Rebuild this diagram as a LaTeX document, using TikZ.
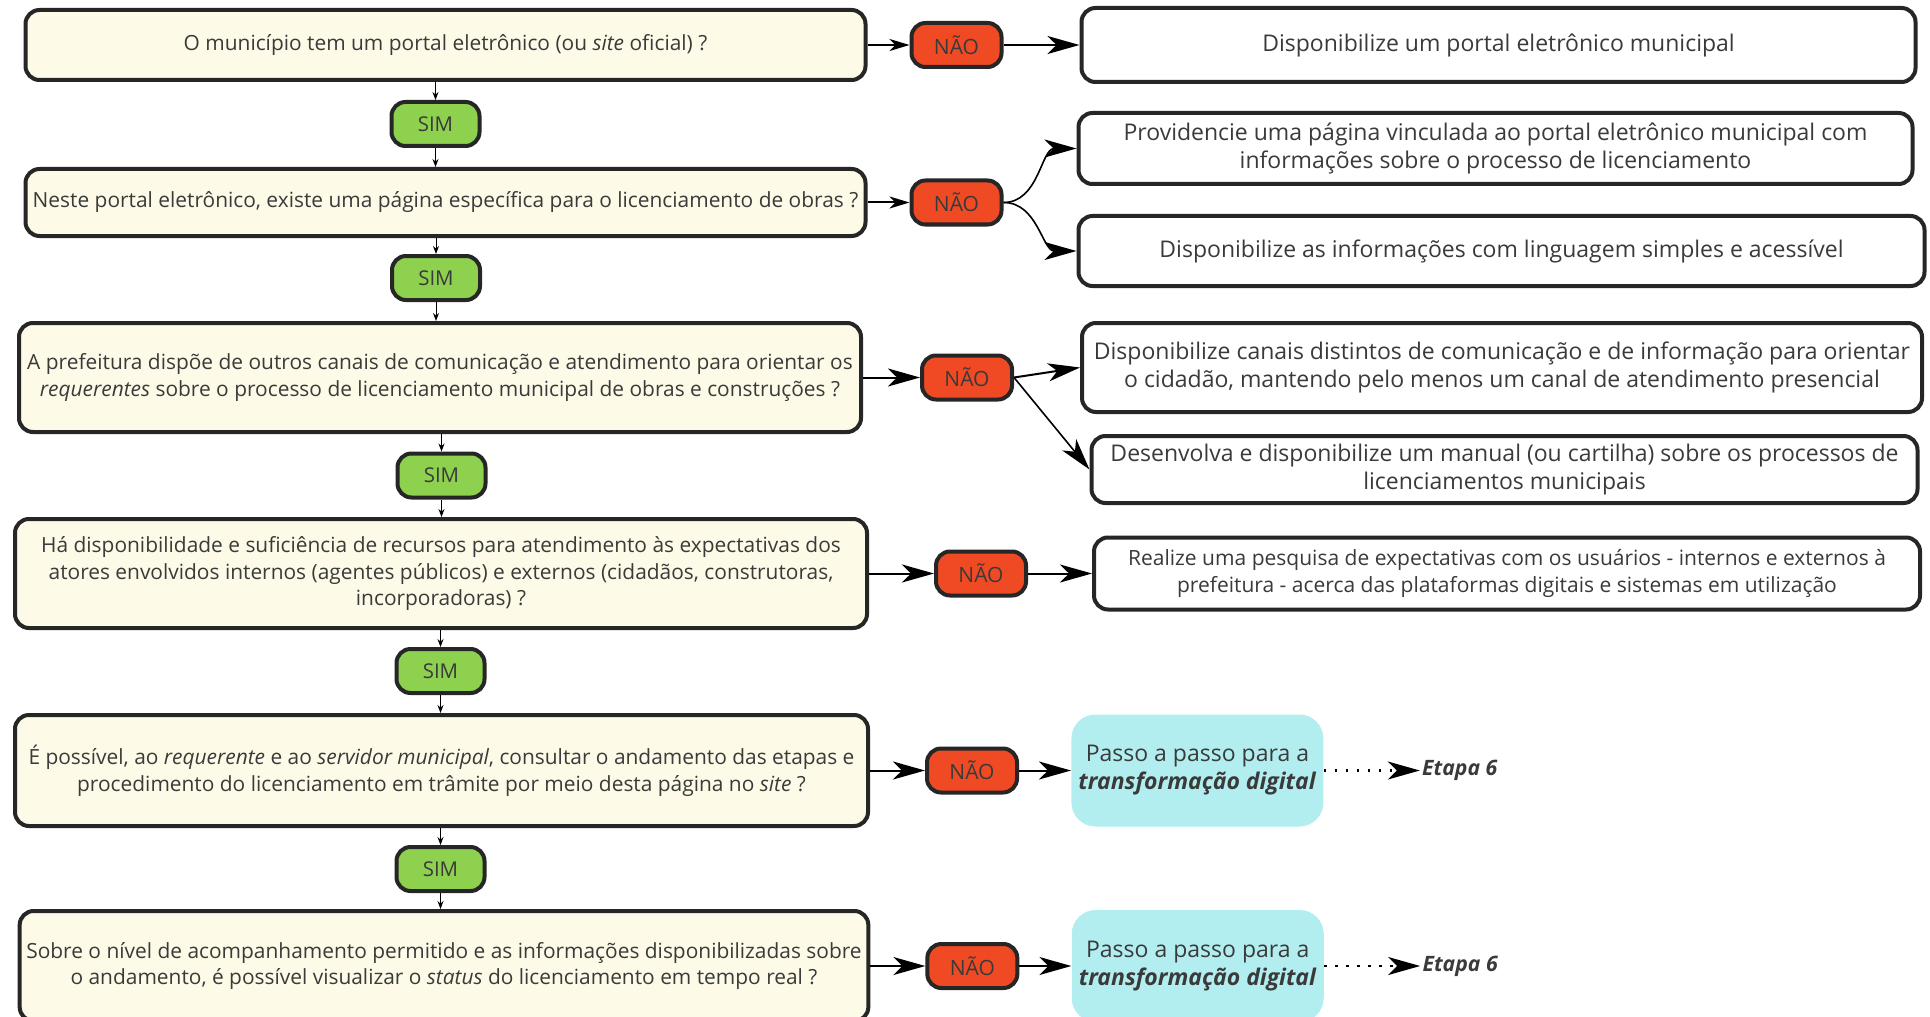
\documentclass[tikz,border=0pt]{standalone}
\usepackage{fontspec}
\setmainfont{Open Sans}
\usepackage{xcolor}
\usetikzlibrary{positioning,arrows.meta}

\definecolor{qyellow}{HTML}{FDFBE7}
\definecolor{simgreen}{HTML}{8DD14F}
\definecolor{naored}{HTML}{F04A25}
\definecolor{guidecyan}{HTML}{B2EEF0}
\definecolor{linegray}{HTML}{262626}
\definecolor{txtgray}{HTML}{3A3A3A}

\begin{document}
\begin{tikzpicture}[
    x=0.5pt, y=-0.5pt,
    node distance=20pt,
    base/.style={rectangle, rounded corners=7pt, draw=linegray, line width=2pt, align=center, text=txtgray},
    question/.style={base, fill=qyellow, font=\fontsize{10.45}{13.4}\selectfont},
    sim/.style={base, fill=simgreen, minimum width=44pt, minimum height=22pt, font=\fontsize{10.2}{11}\selectfont},
    nao/.style={base, fill=naored, minimum width=45pt, minimum height=22pt, font=\fontsize{10.5}{12}\selectfont},
    action/.style={base, fill=white, font=\fontsize{11.5}{14}\selectfont},
    guide/.style={rectangle, rounded corners=12pt, fill=guidecyan, align=center, text=txtgray, minimum width=126pt, minimum height=56pt, font=\fontsize{11.5}{14}\selectfont},
    etapa/.style={inner sep=1pt, text=txtgray, font=\fontsize{10.6}{12}\selectfont\bfseries\itshape},
    arrow/.style={-{Stealth[length=16pt, width=9pt, inset=4.5pt]}, line width=1pt},
    shortarrow/.style={-{Stealth[length=10pt, width=6pt, inset=3pt]}, line width=1pt},
    thinarrow/.style={-{Stealth[length=4pt, width=3pt]}, line width=0.5pt},
    dotarrow/.style={arrow, line width=1.2pt, dash pattern=on 1.2pt off 4.3pt}
]
\useasboundingbox (0,0) rectangle (1930,1016);
\clip (0,0) rectangle (1930,1016);

% Perguntas
\node[question, minimum width=420pt, minimum height=35pt] (q1) at (445.5,45) {O município tem um portal eletrônico (ou \textit{site} oficial) ?};
\node[question, minimum width=420pt, minimum height=33.5pt] (q2) at (445.5,202.5) {Neste portal eletrônico, existe uma página específica para o licenciamento de obras ?};
\node[question, minimum width=421pt, minimum height=54.5pt] (q3) at (440,377.5) {A prefeitura dispõe de outros canais de comunicação e atendimento para orientar os\\\textit{requerentes} sobre o processo de licenciamento municipal de obras e construções ?};
\node[question, minimum width=426pt, minimum height=54.5pt] (q4) at (441,573.5) {Há disponibilidade e suficiência de recursos para atendimento às expectativas dos\\atores envolvidos internos (agentes públicos) e externos (cidadãos, construtoras,\\incorporadoras) ?};
\node[question, minimum width=426.5pt, minimum height=55.5pt] (q5) at (441.5,770.5) {É possível, ao \textit{requerente} e ao \textit{servidor municipal}, consultar o andamento das etapas e\\procedimento do licenciamento em trâmite por meio desta página no \textit{site} ?};
\node[question, minimum width=424pt, minimum height=55pt] (q6) at (444,966) {Sobre o nível de acompanhamento permitido e as informações disponibilizadas sobre\\o andamento, é possível visualizar o \textit{status} do licenciamento em tempo real ?};

% SIM
\node[sim] (sim1) at (435.5,124) {SIM};
\node[sim] (sim2) at (436,278) {SIM};
\node[sim] (sim3) at (441.5,475.5) {SIM};
\node[sim] (sim4) at (440.5,671) {SIM};
\node[sim] (sim5) at (440.5,869) {SIM};

% NÃO
\node[nao, right=21pt of q1] (n1) {NÃO};
\node[nao, right=21pt of q2] (n2) {NÃO};
\node[nao, right=28.5pt of q3] (n3) {NÃO};
\node[nao, right=32.5pt of q4] (n4) {NÃO};
\node[nao, right=27.5pt of q5] (n5) {NÃO};
\node[nao, right=27.5pt of q6] (n6) {NÃO};

% Ações
\node[action, minimum width=417pt, minimum height=37pt, right=38pt of n1] (r1) {Disponibilize um portal eletrônico municipal};
\node[action, minimum width=417pt, minimum height=35.5pt] (r2a) at (1495.5,148.5) {Providencie uma página vinculada ao portal eletrônico municipal com\\informações sobre o processo de licenciamento};
\node[action, minimum width=423pt, minimum height=35pt] (r2b) at (1501.5,251) {Disponibilize as informações com linguagem simples e acessível};
\node[action, minimum width=420pt, minimum height=44.5pt] (r3a) at (1502,367.5) {Disponibilize canais distintos de comunicação e de informação para orientar\\o cidadão, mantendo pelo menos um canal de atendimento presencial};
\node[action, minimum width=413pt, minimum height=33.5pt] (r3b) at (1504.5,469.5) {Desenvolva e disponibilize um manual (ou cartilha) sobre os processos de\\licenciamentos municipais};
\node[action, minimum width=413pt, minimum height=36pt, right=32pt of n4, font=\fontsize{10.5}{13.5}\selectfont] (r4) {Realize uma pesquisa de expectativas com os usuários - internos e externos à\\prefeitura - acerca das plataformas digitais e sistemas em utilização};

% Passo a passo
\node[guide, right=26pt of n5] (guia1) {Passo a passo para a\\\textbf{\textit{transformação digital}}};
\node[guide, right=26pt of n6] (guia2) {Passo a passo para a\\\textbf{\textit{transformação digital}}};
\node[etapa, right=48pt of guia1] (etapa1) {Etapa 6};
\node[etapa, right=48pt of guia2] (etapa2) {Etapa 6};

% Setas SIM
\foreach \q/\s/\r in {q1/sim1/q2, q2/sim2/q3, q3/sim3/q4, q4/sim4/q5, q5/sim5/q6} {
    \draw[thinarrow] (\s |- \q.south) -- (\s.north);
    \draw[thinarrow] (\s.south) -- (\s |- \r.north);
}

% Setas NÃO
\draw[shortarrow] (q1) -- (n1);
\draw[shortarrow] (q2) -- (n2);
\draw[arrow] (q3) -- (n3);
\draw[arrow] (q4) -- (n4);
\draw[arrow] (q5) -- (n5);
\draw[arrow] (q6) -- (n6);

\draw[arrow] (n1) -- (r1);
\draw[arrow, line width=0.8pt] (n2.east) to[out=0, in=180] (r2a.west);
\draw[arrow, line width=0.8pt] (n2.east) to[out=0, in=180] (r2b.west);
\draw[arrow] (n3.east) -- (r3a.west);
\draw[arrow, line width=0.8pt] (n3.east) -- (r3b.west);
\draw[arrow] (n4) -- (r4);
\draw[arrow] (n5) -- (guia1);
\draw[arrow] (n6) -- (guia2);

\draw[dotarrow] (guia1) -- (etapa1);
\draw[dotarrow] (guia2) -- (etapa2);

\end{tikzpicture}
\end{document}
